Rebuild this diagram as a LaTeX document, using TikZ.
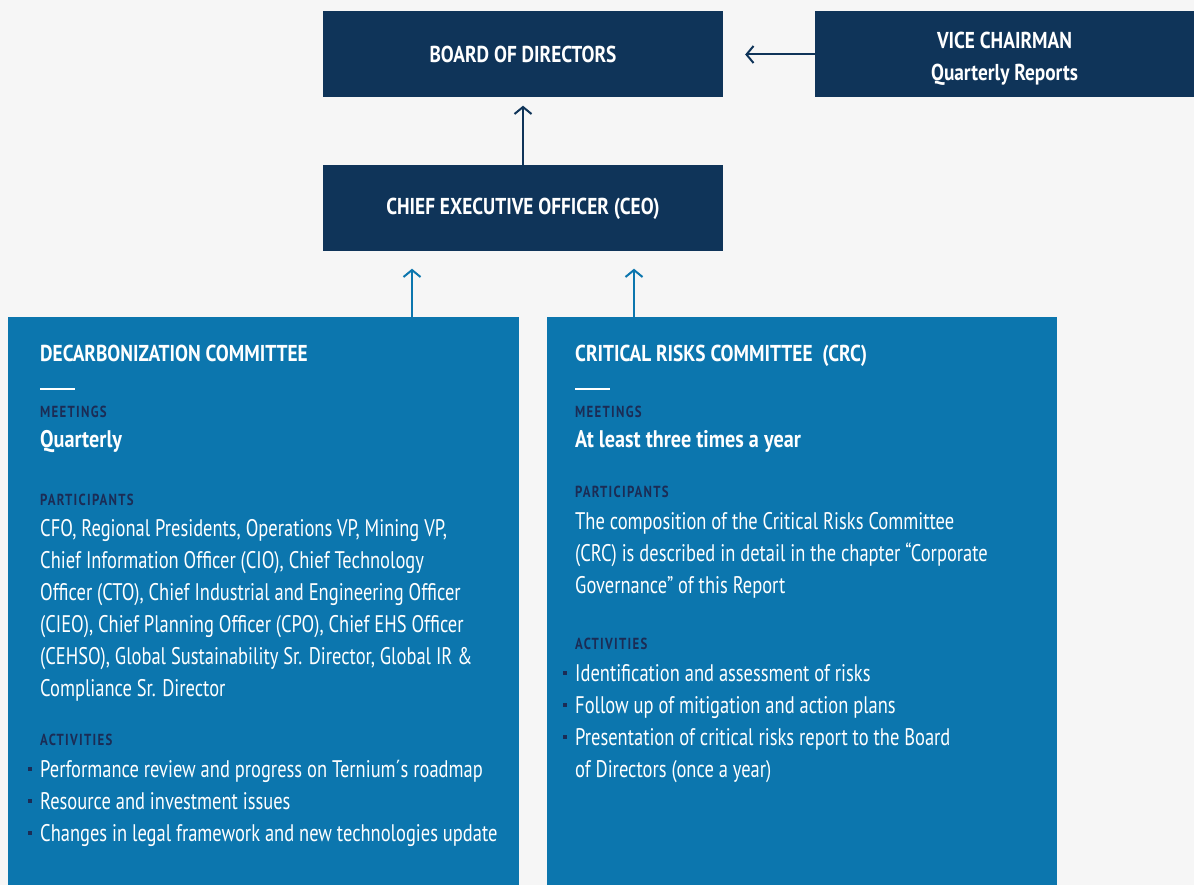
\documentclass[tikz,border=0pt]{standalone}
\usepackage{fontspec}
\setmainfont{PT Sans}[FakeStretch=0.77, BoldFeatures={FakeStretch=0.84}]
\newfontfamily\capsfont{PT Sans}[FakeStretch=0.8, LetterSpace=8]
\usepackage{tikz}
\usetikzlibrary{arrows.meta,positioning}

\definecolor{navybox}{HTML}{0F3459}
\definecolor{bluebox}{HTML}{0C76AE}
\definecolor{labelnavy}{HTML}{1B2C55}
\definecolor{pagebg}{HTML}{F6F6F6}

\tikzset{
  topbox/.style={fill=navybox, text=white, inner sep=0pt, minimum height=86pt,
    align=center, font=\fontsize{23}{32}\selectfont\bfseries},
  boxtxt/.style={inner sep=0pt, text=white, align=center,
    font=\fontsize{23}{32}\selectfont\bfseries},
  combox/.style={fill=bluebox, inner sep=0pt, minimum width=511pt, minimum height=568pt},
  navyarrow/.style={draw=navybox, line width=2pt, -{Straight Barb[length=7pt,width=17pt]}},
  bluearrow/.style={draw=bluebox, line width=2pt, -{Straight Barb[length=7pt,width=17pt]}},
  headtxt/.style={anchor=base west, inner sep=0pt, text=white,
    font=\fontsize{23}{28}\selectfont\bfseries},
  labeltxt/.style={anchor=base west, inner sep=0pt, text=labelnavy,
    font=\capsfont\fontsize{16}{20}\selectfont\bfseries},
  bodytxt/.style={anchor=base west, inner sep=0pt, text=white,
    font=\fontsize{24}{32}\selectfont},
  meettxt/.style={bodytxt, font=\fontsize{24}{32}\selectfont\bfseries},
}

\begin{document}
\begin{tikzpicture}[x=1pt,y=-1pt]
  \fill[pagebg] (0,0) rectangle (1194,885);
  \useasboundingbox (0,0) rectangle (1194,885);

  % top row
  \node[topbox, minimum width=400pt] (board) at (523,54.5) {BOARD OF DIRECTORS};
  \node[topbox, minimum width=379pt] (vice) at (1004.5,54.5) {};
  \node[boxtxt] (vicetxt) at ([yshift=-4pt]vice.center) {VICE CHAIRMAN\\Quarterly Reports};
  \node[topbox, minimum width=400pt] (ceo) at (523,208.5) {CHIEF EXECUTIVE OFFICER (CEO)};

  % committees
  \node[combox] (decarb) at (263.5,601) {};
  \node[combox, minimum width=510pt] (crc) at (802,601) {};

  \draw[navyarrow, shorten >=22pt] (vice.west) -- (board.east);
  \draw[navyarrow, shorten >=8pt] (ceo.north) -- (board.south);
  \draw[bluearrow, shorten >=17pt] ([xshift=148.5pt]decarb.north) -- ([xshift=-111pt]ceo.south);
  \draw[bluearrow, shorten >=17pt] ([xshift=-168pt]crc.north) -- ([xshift=111pt]ceo.south);

  % decarbonization committee
  \node[headtxt] (dtitle) at (40,361) {DECARBONIZATION COMMITTEE};
  \draw[white, line width=2.5pt] (40,389) -- (75,389);
  \node[labeltxt] (dmeet) at (40,417) {MEETINGS};
  \node[meettxt] (dquart) at (40,447) {Quarterly};
  \node[labeltxt] (dpartl) at (40,505) {PARTICIPANTS};
  \foreach \txt [count=\i from 0] in {
      {CFO, Regional Presidents, Operations VP, Mining VP,},
      {Chief Information Officer (CIO), Chief Technology},
      {Officer (CTO), Chief Industrial and Engineering Officer},
      {(CIEO), Chief Planning Officer (CPO), Chief EHS Officer},
      {(CEHSO), Global Sustainability Sr. Director, Global IR \&},
      {Compliance Sr. Director}}
    \node[bodytxt] (dpart\i) at (40,536+32*\i) {\txt};
  \node[labeltxt] (dactl) at (40,745) {ACTIVITIES};
  \foreach \txt [count=\i from 0] in {
      {Performance review and progress on Ternium´s roadmap},
      {Resource and investment issues},
      {Changes in legal framework and new technologies update}}{
    \node[bodytxt] (dact\i) at (40,777+32*\i) {\txt};
    \fill[labelnavy] (28,767+32*\i) rectangle ++(4,4);
  }

  % critical risks committee
  \node[headtxt] (ctitle) at (575,361) {CRITICAL RISKS COMMITTEE \ (CRC)};
  \draw[white, line width=2.5pt] (575,389) -- (610,389);
  \node[labeltxt] (cmeet) at (575,417) {MEETINGS};
  \node[meettxt] (cthree) at (575,447) {At least three times a year};
  \node[labeltxt] (cpartl) at (575,497) {PARTICIPANTS};
  \foreach \txt [count=\i from 0] in {
      {The composition of the Critical Risks Committee},
      {(CRC) is described in detail in the chapter “Corporate},
      {Governance” of this Report}}
    \node[bodytxt] (cpart\i) at (575,529+32*\i) {\txt};
  \node[labeltxt] (cactl) at (575,649) {ACTIVITIES};
  \foreach \txt [count=\i from 0] in {
      {Identification and assessment of risks},
      {Follow up of mitigation and action plans},
      {Presentation of critical risks report to the Board}}{
    \node[bodytxt] (cact\i) at (575,681+32*\i) {\txt};
    \fill[labelnavy] (563,671+32*\i) rectangle ++(4,4);
  }
  \node[bodytxt] (cact3) at (575,777) {of Directors (once a year)};
\end{tikzpicture}
\end{document}
